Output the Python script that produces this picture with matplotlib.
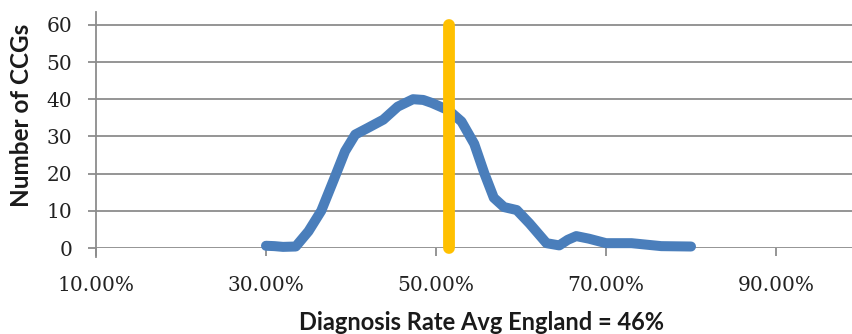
import matplotlib
matplotlib.use("Agg")
import matplotlib.pyplot as plt

# Diagnosis rate (%) vs number of CCGs
rate = [30, 31, 32, 33.5, 35, 36.5, 38, 39.3, 40.5, 42, 43.8, 45.5, 47.3, 48.5, 49.5, 51.5,
        53, 54.5, 55.7, 56.8, 58, 59.5, 61, 63, 64.5, 65.5, 66.5, 68, 70, 73, 76.5, 80]
ccgs = [0.6, 0.5, 0.3, 0.4, 4.5, 10, 18.5, 26, 30.5, 32.3, 34.5, 38, 40, 39.8, 39, 37,
        34, 28, 20, 13.5, 11, 10.2, 6.6, 1.3, 0.7, 2.2, 3.2, 2.5, 1.3, 1.3, 0.5, 0.4]

marker_rate = 51.5
marker_top = 60

xticks = [10, 30, 50, 70, 90]
xtick_labels = ["10.00%", "30.00%", "50.00%", "70.00%", "90.00%"]
yticks = [0, 10, 20, 30, 40, 50, 60]

W, H = 852, 334
fig = plt.figure(figsize=(W / 100, H / 100), dpi=100)
ax = fig.add_axes([96 / W, 1 - 248 / H, 1 - 96 / W, (248 - 12) / H])

ax.set_xlim(10, 10 + (W - 96) / 8.5)
ax.set_ylim(0, (248 - 12) / 3.72)

grid_col = "#8c8c8c"
for y in yticks:
    ax.axhline(y, color=grid_col, lw=1.3, zorder=1)

ax.plot(rate, ccgs, color="#4a7ebb", lw=7.2, solid_capstyle="round",
        solid_joinstyle="round", zorder=3, clip_on=False)
ax.plot([marker_rate, marker_rate], [0, marker_top], color="#ffc000", lw=8.5,
        solid_capstyle="round", zorder=4, clip_on=False)

for s in ["top", "right", "bottom"]:
    ax.spines[s].set_visible(False)
ax.spines["left"].set_color(grid_col)
ax.spines["left"].set_linewidth(1.3)
ax.spines["left"].set_bounds(-2.5, (248 - 12) / 3.72)

ax.set_xticks(xticks)
ax.set_xticklabels(xtick_labels)
ax.set_yticks(yticks)
ax.tick_params(axis="both", colors=grid_col, length=6, width=1.3, labelcolor="#222222",
               labelsize=14.5)
ax.tick_params(axis="x", pad=14)
ax.tick_params(axis="y", pad=11)
for lab in ax.get_xticklabels() + ax.get_yticklabels():
    lab.set_family("DejaVu Serif")

fig.text(482 / W, 1 - 323 / H, "Diagnosis Rate Avg England = 46%", family="Lato",
         fontweight="bold", fontsize=17, color="#1a1a1a", ha="center", va="center")
fig.text(22 / W, 1 - 115 / H, "Number of CCGs", family="Lato", fontweight="bold",
         fontsize=17.5, color="#1a1a1a", ha="center", va="center", rotation=90)

fig.savefig("out.png", dpi=100)
